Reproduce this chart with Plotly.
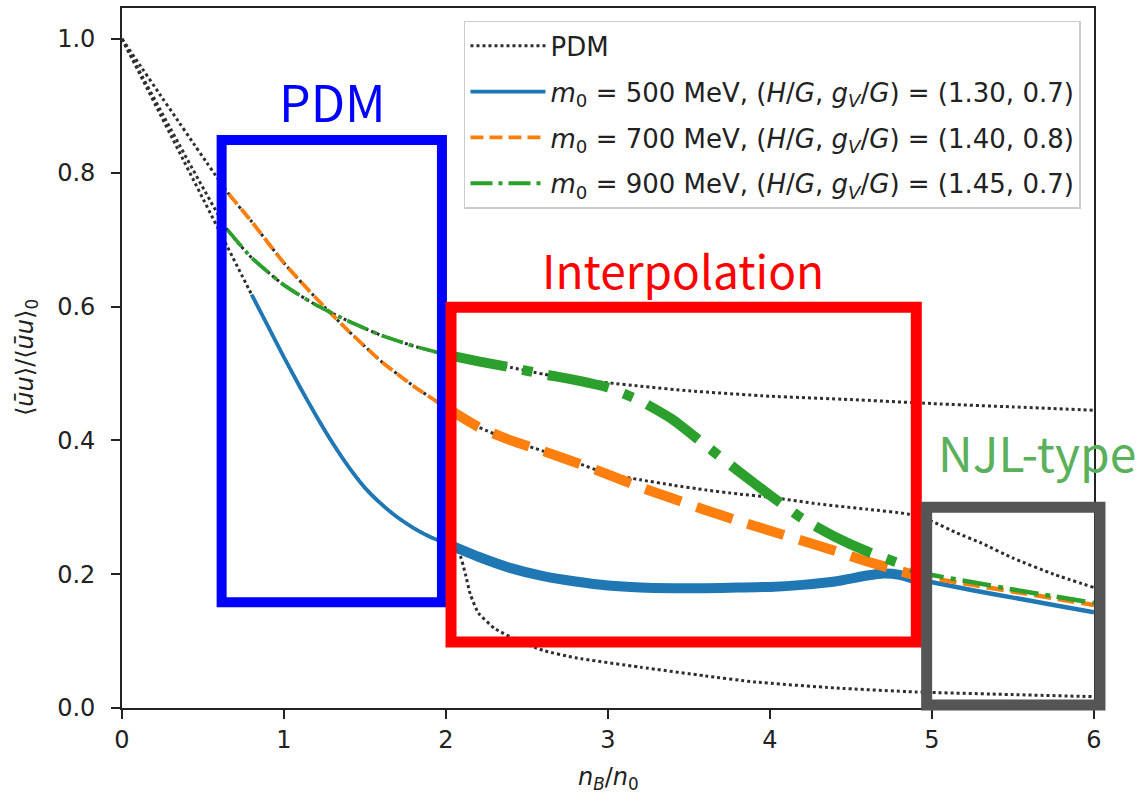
import plotly.graph_objects as go

# ---------------- data ----------------
# PDM curves (dotted), one per parameter set
pdm1_n = [0.0, 0.8, 0.9, 1.0, 1.1, 1.2, 1.3, 1.4, 1.5, 1.6, 1.7, 1.8, 1.9, 2.0,
          2.08, 2.12, 2.15, 2.2, 2.3, 2.45, 2.6, 2.8, 3.2, 3.6, 3.9, 4.4, 4.9, 5.5, 6.0]
pdm1_y = [1.0, 0.618, 0.571, 0.524, 0.479, 0.436, 0.396, 0.36, 0.329, 0.305, 0.285, 0.269, 0.256, 0.246,
          0.232, 0.2, 0.17, 0.142, 0.119, 0.1, 0.086, 0.075, 0.061, 0.048, 0.039, 0.03, 0.024, 0.02, 0.017]

pdm2_n = [0.0, 0.66, 0.8, 1.0, 1.2, 1.4, 1.6, 1.8, 2.0, 2.2, 2.4, 2.6, 2.8, 3.0, 3.2, 3.4, 3.6,
          3.8, 4.0, 4.3, 4.6, 4.85, 5.0, 5.15, 5.3, 5.5, 5.75, 6.0]
pdm2_y = [1.0, 0.768, 0.727, 0.665, 0.612, 0.563, 0.518, 0.481, 0.449, 0.42, 0.4, 0.384, 0.367, 0.35,
          0.341, 0.333, 0.326, 0.32, 0.315, 0.305, 0.297, 0.29, 0.279, 0.262, 0.247, 0.224, 0.2, 0.18]

pdm3_n = [0.0, 0.65, 0.8, 1.0, 1.2, 1.4, 1.6, 1.8, 2.0, 2.2, 2.4, 2.6, 2.8, 3.0, 3.2, 3.5,
          4.0, 4.5, 5.0, 5.5, 6.0]
pdm3_y = [1.0, 0.715, 0.673, 0.632, 0.602, 0.578, 0.557, 0.541, 0.528, 0.518, 0.509, 0.499, 0.49,
          0.486, 0.481, 0.474, 0.466, 0.461, 0.455, 0.45, 0.445]

# m0 = 500 MeV
m500_n = [0.8, 0.9, 1.0, 1.1, 1.2, 1.3, 1.4, 1.5, 1.6, 1.7, 1.8, 1.9, 2.0,
          2.2, 2.4, 2.6, 2.8, 3.0, 3.2, 3.4, 3.6, 3.8, 4.0, 4.2, 4.4, 4.6, 4.7, 4.8, 4.9,
          5.0, 5.25, 5.5, 5.75, 6.0]
m500_y = [0.618, 0.571, 0.524, 0.479, 0.436, 0.396, 0.36, 0.329, 0.305, 0.285, 0.269, 0.256, 0.246,
          0.226, 0.209, 0.197, 0.189, 0.183, 0.18, 0.179, 0.179, 0.18, 0.181, 0.184, 0.189, 0.198, 0.201, 0.199, 0.192,
          0.188, 0.176, 0.165, 0.154, 0.143]

# m0 = 700 MeV
m700_n = [0.66, 0.8, 1.0, 1.2, 1.4, 1.6, 1.8, 2.0, 2.2, 2.4, 2.6, 2.8, 3.0, 3.2, 3.4, 3.6,
          3.8, 4.0, 4.2, 4.4, 4.6, 4.8, 4.9, 5.0, 5.25, 5.5, 5.75, 6.0]
m700_y = [0.768, 0.727, 0.665, 0.612, 0.563, 0.518, 0.481, 0.449, 0.42, 0.4, 0.384, 0.367, 0.349,
          0.33, 0.313, 0.296, 0.28, 0.265, 0.25, 0.235, 0.219, 0.205, 0.198, 0.194, 0.184, 0.174, 0.164, 0.154]

# m0 = 900 MeV
m900_n = [0.65, 0.8, 1.0, 1.2, 1.4, 1.6, 1.8, 2.0, 2.2, 2.4, 2.6, 2.8, 3.0, 3.2, 3.4, 3.6,
          3.8, 4.0, 4.2, 4.4, 4.6, 4.8, 4.9, 5.0, 5.25, 5.5, 5.75, 6.0]
m900_y = [0.715, 0.673, 0.632, 0.602, 0.578, 0.557, 0.541, 0.528, 0.518, 0.509, 0.499, 0.49, 0.479,
          0.459, 0.431, 0.393, 0.355, 0.318, 0.283, 0.256, 0.234, 0.216, 0.207, 0.199, 0.188, 0.177, 0.167, 0.157]

# region boundaries (in n_B/n_0)
pdm_region_end = 2.0
njl_region_start = 4.9

# legend labels
legend_labels = [
    "PDM",
    "<i>m</i><sub>0</sub> = 500 MeV, (<i>H</i>/<i>G</i>, <i>g</i><sub><i>V</i></sub>/<i>G</i>) = (1.30, 0.7)",
    "<i>m</i><sub>0</sub> = 700 MeV, (<i>H</i>/<i>G</i>, <i>g</i><sub><i>V</i></sub>/<i>G</i>) = (1.40, 0.8)",
    "<i>m</i><sub>0</sub> = 900 MeV, (<i>H</i>/<i>G</i>, <i>g</i><sub><i>V</i></sub>/<i>G</i>) = (1.45, 0.7)",
]

x_ticks = [0, 1, 2, 3, 4, 5, 6]
y_ticks = [0.0, 0.2, 0.4, 0.6, 0.8, 1.0]

# region boxes (data units)
box_x0 = [0.615, 2.031, 4.967]
box_x1 = [1.975, 4.903, 6.037]
box_y0 = [0.158, 0.0988, 0.0045]
box_y1 = [0.849, 0.599, 0.300]
box_colors = ["#0000ff", "#ff0000", "#555555"]
box_widths = [10, 11, 11]

# region labels
label_text = ["PDM", "Interpolation", "NJL-type"]
label_x = [1.30, 3.463, 5.648]
label_y = [0.908, 0.656, 0.384]
label_colors = ["#0000ff", "#ff0000", "#5bb05b"]
label_sizes = [50, 46, 48]

# ---------------- figure ----------------
X_MAX = 6.0
Y_MAX = 1.0462
FONT = "DejaVu Sans"
C_BLUE, C_ORANGE, C_GREEN, C_PDM = "#1f77b4", "#ff7f0e", "#2ca02c", "#2e2e2e"


def segment(n, y, lo, hi):
    pts = [(a, b) for a, b in zip(n, y) if lo <= a <= hi]
    return [p[0] for p in pts], [p[1] for p in pts]


fig = go.Figure()

# dotted PDM curves
for i, (n, y) in enumerate([(pdm1_n, pdm1_y), (pdm2_n, pdm2_y), (pdm3_n, pdm3_y)]):
    fig.add_trace(go.Scatter(
        x=n, y=y, mode="lines", name=legend_labels[0], legendgroup="pdm",
        showlegend=(i == 0),
        line=dict(color=C_PDM, width=3, dash="3px,3px", shape="spline", smoothing=0.5),
        hoverinfo="skip"))

models = [
    (m500_n, m500_y, C_BLUE, legend_labels[1], "m500",
     ["solid", "solid", "solid"]),
    (m700_n, m700_y, C_ORANGE, legend_labels[2], "m700",
     ["13px,6px", "38px,16px", "17px,7px"]),
    (m900_n, m900_y, C_GREEN, legend_labels[3], "m900",
     ["22px,6px,4px,6px", "62px,16px,10px,16px", "29px,7px,5px,7px"]),
]
widths = [3.8, 10, 4.5]
for n, y, col, lab, grp, dashes in models:
    ranges = [(0, pdm_region_end), (pdm_region_end, njl_region_start), (njl_region_start, X_MAX)]
    for k, (lo, hi) in enumerate(ranges):
        sx, sy = segment(n, y, lo, hi)
        fig.add_trace(go.Scatter(
            x=sx, y=sy, mode="lines", name=lab, legendgroup=grp,
            showlegend=(k == 0),
            line=dict(color=col, width=widths[k], dash=dashes[k], shape="spline", smoothing=0.5),
            hoverinfo="skip"))

# region boxes
for x0, x1, y0, y1, c, w in zip(box_x0, box_x1, box_y0, box_y1, box_colors, box_widths):
    fig.add_shape(type="rect", xref="paper", yref="paper",
                  x0=x0 / X_MAX, x1=x1 / X_MAX, y0=y0 / Y_MAX, y1=y1 / Y_MAX,
                  line=dict(color=c, width=w), fillcolor="rgba(0,0,0,0)", layer="above")

# region labels
for t, x, y, c, s in zip(label_text, label_x, label_y, label_colors, label_sizes):
    fig.add_annotation(x=x, y=y, xref="x", yref="y", text=t, showarrow=False,
                       xanchor="center", yanchor="middle",
                       font=dict(family="Noto Sans CJK JP", size=s, color=c))

# axis titles
fig.add_annotation(xref="paper", yref="paper", x=0, y=0.5, xshift=-96,
                   text="⟨<i>ūu</i>⟩/⟨<i>ūu</i>⟩<sub>0</sub>", textangle=-90,
                   showarrow=False, xanchor="center", yanchor="middle",
                   font=dict(family=FONT, size=24, color="#222222"))
fig.add_annotation(xref="paper", yref="paper", x=0.5, y=0, yshift=-70,
                   text="<i>n</i><sub><i>B</i></sub>/<i>n</i><sub>0</sub>",
                   showarrow=False, xanchor="center", yanchor="middle",
                   font=dict(family=FONT, size=24, color="#222222"))

axis_common = dict(showline=True, linecolor="#222222", linewidth=1.8, mirror=True,
                   ticks="outside", ticklen=9, tickwidth=1.8, tickcolor="#222222",
                   showgrid=False, zeroline=False,
                   tickfont=dict(family=FONT, size=24, color="#222222"))

fig.update_layout(
    width=1140, height=793,
    margin=dict(l=122, r=46, t=6, b=85),
    paper_bgcolor="white", plot_bgcolor="white",
    xaxis=dict(range=[0, X_MAX], tickvals=x_ticks, ticktext=[str(v) for v in x_ticks],
               ticklabelstandoff=0, **axis_common),
    yaxis=dict(range=[0, Y_MAX], tickvals=y_ticks, ticktext=[f"{v:.1f}" for v in y_ticks],
               ticklabelstandoff=11, **axis_common),
    legend=dict(x=0.9866, y=0.9815, xanchor="right", yanchor="top",
                bgcolor="rgba(255,255,255,0.85)", bordercolor="#cccccc", borderwidth=1.5,
                font=dict(family=FONT, size=26, color="#222222"),
                itemwidth=75, tracegroupgap=9, traceorder="grouped"),
    showlegend=True,
)

fig.write_html("out.html")
